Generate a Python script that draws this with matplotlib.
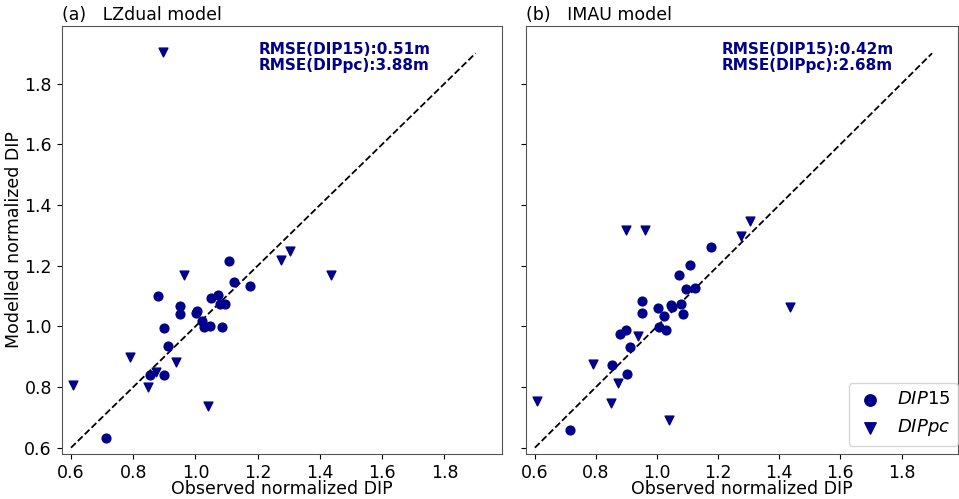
import numpy as np
import matplotlib
matplotlib.use('Agg')
import matplotlib.pyplot as plt

# observed normalized DIP (shared by both models)
obs_15 = [0.714, 0.854, 0.880, 0.899, 0.900, 0.912, 0.950, 0.950, 1.002, 1.005, 1.021,
          1.028, 1.046, 1.050, 1.071, 1.078, 1.084, 1.094, 1.109, 1.125, 1.175]
obs_pc = [0.608, 0.790, 0.849, 0.872, 0.897, 0.938, 0.962, 1.040, 1.275, 1.305, 1.436]

# modelled normalized DIP, LZdual
lz_15 = [0.631, 0.841, 1.100, 0.993, 0.841, 0.934, 1.068, 1.042, 1.045, 1.050, 1.018,
         0.999, 1.001, 1.094, 1.104, 1.073, 0.999, 1.074, 1.215, 1.146, 1.134]
lz_pc = [0.808, 0.898, 0.800, 0.848, 1.905, 0.882, 1.168, 0.737, 1.218, 1.247, 1.169]

# modelled normalized DIP, IMAU
imau_15 = [0.657, 0.873, 0.974, 0.989, 0.842, 0.933, 1.084, 1.043, 1.059, 0.997, 1.035,
           0.987, 1.069, 1.063, 1.169, 1.074, 1.041, 1.122, 1.203, 1.128, 1.260]
imau_pc = [0.754, 0.877, 0.748, 0.813, 1.316, 0.968, 1.318, 0.691, 1.298, 1.348, 1.065]

titles = ['(a)   LZdual model', '(b)   IMAU model']
rmse_text = ['RMSE(DIP15):0.51m\nRMSE(DIPpc):3.88m',
             'RMSE(DIP15):0.42m\nRMSE(DIPpc):2.68m']
one_to_one = [0.6, 1.9]

fig = plt.figure(figsize=(9.59, 4.99), dpi=100)
ax1 = fig.add_axes([0.0643, 0.090, 0.4592, 0.858])
ax2 = fig.add_axes([0.5482, 0.090, 0.4508, 0.858], sharey=ax1)

col = 'darkblue'
fs = 12.5
for i, (ax, m15, mpc) in enumerate([(ax1, lz_15, lz_pc), (ax2, imau_15, imau_pc)]):
    ax.scatter(obs_15, m15, marker='o', color=col, s=40, label='$DIP15$', zorder=3)
    ax.scatter(obs_pc, mpc, marker='v', color=col, s=40, label='$DIPpc$', zorder=3)
    ax.plot(one_to_one, one_to_one, 'k--', lw=1.3)
    ax.set_xlim(0.57, 1.985)
    ax.set_ylim(0.579, 1.99)
    ax.set_xticks([0.6, 0.8, 1.0, 1.2, 1.4, 1.6, 1.8])
    ax.set_yticks([0.6, 0.8, 1.0, 1.2, 1.4, 1.6, 1.8])
    ax.tick_params(labelsize=fs)
    ax.set_xlabel('Observed normalized DIP', fontsize=fs, labelpad=-1)
    ax.set_title(titles[i], loc='left', fontsize=fs, pad=4)
    ax.text(0.447 if i == 0 else 0.452, 0.963, rmse_text[i], transform=ax.transAxes,
            fontsize=11, fontweight='bold', color=col, va='top', ha='left', linespacing=1.12)
    for s in ax.spines.values():
        s.set_color('#555555')

ax1.set_ylabel('Modelled normalized DIP', fontsize=fs, labelpad=1)
plt.setp(ax2.get_yticklabels(), visible=False)
ax2.legend(loc='lower right', bbox_to_anchor=(1.0, 0.02), fontsize=13, markerscale=1.3,
           handletextpad=0.7, borderaxespad=0.0, handlelength=1.6)

fig.savefig('out.png', dpi=100)
